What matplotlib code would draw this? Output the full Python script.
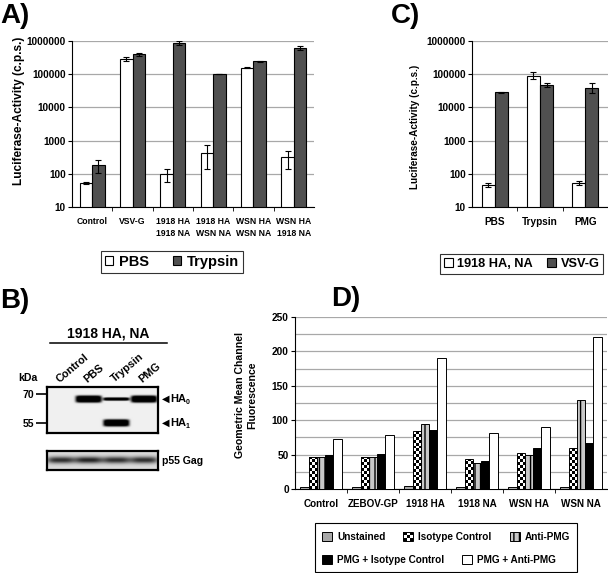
import numpy as np
import matplotlib
matplotlib.use('Agg')
import matplotlib.pyplot as plt
from matplotlib.patches import Rectangle, Patch
from matplotlib.legend_handler import HandlerBase
from matplotlib.ticker import NullLocator, FixedLocator

plt.rcParams['font.family'] = ['Liberation Sans', 'DejaVu Sans']
plt.rcParams['font.weight'] = 'bold'
plt.rcParams['axes.linewidth'] = 0.8

# ---------------- data ----------------
# Panel A
catsA = ['Control', 'VSV-G', '1918 HA\n1918 NA', '1918 HA\nWSN NA', 'WSN HA\nWSN NA', 'WSN HA\n1918 NA']
pbsA = [54, 280000, 98, 430, 157000, 327]
pbsA_lo = [51, 245000, 58, 140, 152000, 140]
pbsA_hi = [58, 320000, 136, 720, 162000, 497]
trypA = [184, 395000, 850000, 101000, 245000, 630000]
trypA_lo = [103, 360000, 740000, 98000, 235000, 540000]
trypA_hi = [263, 430000, 980000, 104000, 255000, 725000]
logTicks = [10, 100, 1000, 10000, 100000, 1000000]
logTickLabels = ['10', '100', '1000', '10000', '100000', '1000000']

# Panel C
catsC = ['PBS', 'Trypsin', 'PMG']
haC = [46, 90000, 54]
haC_lo = [39, 71000, 47]
haC_hi = [54, 115000, 60]
vsvC = [28500, 47000, 37600]
vsvC_lo = [27500, 40000, 26600]
vsvC_hi = [29500, 54000, 53000]

# Panel B (western blot band signals)
lanesB = ['Control', 'PBS', 'Trypsin', 'PMG']
ha0_signal = [0.0, 1.0, 0.45, 1.0]
ha1_signal = [0.0, 0.0, 1.0, 0.0]
gag_signal = [0.8, 0.85, 0.8, 0.8]
markers_kda = [55, 70]
ha0_kda = 67.4
ha1_kda = 55.0

# Panel D
catsD = ['Control', 'ZEBOV-GP', '1918 HA', '1918 NA', 'WSN HA', 'WSN NA']
seriesD = ['Unstained', 'Isotype Control', 'Anti-PMG', 'PMG + Isotype Control', 'PMG + Anti-PMG']
unstained = [3, 3, 4, 3, 3, 3]
isotype = [47, 47, 84, 44, 52, 59]
antipmg = [47, 46, 95, 38, 49, 129]
pmg_iso = [49, 51, 86, 41, 60, 67]
pmg_anti = [72, 79, 191, 82, 90, 221]

# ---------------- layout helpers ----------------
W, H = 608, 573
fig = plt.figure(figsize=(6.08, 5.73), dpi=100)


def rect(l, t, r, b):
    return [l / W, 1 - b / H, (r - l) / W, (b - t) / H]


def fxy(x, y):
    return (x / W, 1 - y / H)


DARK = '#505050'
GRID = '#a8a8a8'
ekw = dict(ecolor='black', elinewidth=0.8, capsize=2, capthick=0.8)


def style_log_axes(ax, n):
    ax.set_yscale('log')
    ax.set_ylim(10, 1e6)
    ax.yaxis.set_major_locator(FixedLocator(logTicks))
    ax.set_yticklabels(logTickLabels, fontsize=7.2, fontweight='bold')
    ax.yaxis.set_minor_locator(NullLocator())
    ax.set_xlim(-0.5, n - 0.5)
    ax.grid(axis='y', color=GRID, lw=0.9)
    ax.set_axisbelow(True)
    for s in ['top', 'right']:
        ax.spines[s].set_visible(False)
    ax.tick_params(axis='y', length=3, pad=1.5)
    ax.tick_params(axis='x', which='major', length=0, pad=7)
    ax.xaxis.set_minor_locator(FixedLocator(np.arange(0.5, n - 0.5, 1)))
    ax.tick_params(axis='x', which='minor', length=3)


# ---------------- Panel A ----------------
axA = fig.add_axes(rect(72, 41, 314, 207))
xA = np.arange(len(catsA))
bw = 0.31
pa = np.array(pbsA, float)
ta = np.array(trypA, float)
axA.bar(xA - bw / 2, pa - 10, bw, bottom=10, color='white', edgecolor='black', lw=0.8, zorder=3,
        yerr=[pa - np.array(pbsA_lo), np.array(pbsA_hi) - pa], error_kw=ekw)
axA.bar(xA + bw / 2, ta - 10, bw, bottom=10, color=DARK, edgecolor='black', lw=0.8, zorder=3,
        yerr=[ta - np.array(trypA_lo), np.array(trypA_hi) - ta], error_kw=ekw)
style_log_axes(axA, len(catsA))
axA.set_xticks(xA)
axA.set_xticklabels(catsA, fontsize=6.2, fontweight='bold', linespacing=1.45, va='top')
fig.text(*fxy(19, 111), 'Luciferase-Activity (c.p.s.)', rotation=90, ha='center', va='center',
         fontsize=8.6, fontweight='bold')

legA = fig.legend([Patch(facecolor='white', edgecolor='black', lw=0.8),
                   Patch(facecolor=DARK, edgecolor='black', lw=0.8)], ['PBS', 'Trypsin'],
                  loc='center', bbox_to_anchor=fxy(172, 262), ncol=2, frameon=True, fancybox=False,
                  edgecolor='black', fontsize=10.5, handlelength=0.6, handleheight=0.6,
                  handletextpad=0.4, columnspacing=1.6, borderpad=0.25, borderaxespad=0)
legA.get_frame().set_linewidth(0.8)

# ---------------- Panel C ----------------
axC = fig.add_axes(rect(472, 41, 608, 207))
xC = np.arange(len(catsC))
bwc = 0.29
hc = np.array(haC, float)
vc = np.array(vsvC, float)
axC.bar(xC - bwc / 2, hc - 10, bwc, bottom=10, color='white', edgecolor='black', lw=0.8, zorder=3,
        yerr=[hc - np.array(haC_lo), np.array(haC_hi) - hc], error_kw=ekw)
axC.bar(xC + bwc / 2, vc - 10, bwc, bottom=10, color=DARK, edgecolor='black', lw=0.8, zorder=3,
        yerr=[vc - np.array(vsvC_lo), np.array(vsvC_hi) - vc], error_kw=ekw)
style_log_axes(axC, len(catsC))
axC.set_xticks(xC)
axC.set_xticklabels(catsC, fontsize=7.2, fontweight='bold')
fig.text(*fxy(415, 127), 'Luciferase-Activity (c.p.s.)', rotation=90, ha='center', va='center',
         fontsize=7.2, fontweight='bold')
legC = fig.legend([Patch(facecolor='white', edgecolor='black', lw=0.8),
                   Patch(facecolor=DARK, edgecolor='black', lw=0.8)], ['1918 HA, NA', 'VSV-G'],
                  loc='center left', bbox_to_anchor=fxy(440, 264), ncol=2, frameon=True,
                  fancybox=False, edgecolor='black', fontsize=9.2, handlelength=0.7,
                  handleheight=0.7, handletextpad=0.35, columnspacing=1.1, borderpad=0.3,
                  borderaxespad=0)
legC.get_frame().set_linewidth(0.8)

# ---------------- Panel B (western blot) ----------------
axB = fig.add_axes(rect(47, 387, 158, 433))
ylimB = (49.8, 73.6)
xs = np.linspace(-0.5, len(lanesB) - 0.5, 444)
ys = np.linspace(ylimB[0], ylimB[1], 184)
XX, YY = np.meshgrid(xs, ys)
dark = np.zeros_like(XX)
for i in range(len(lanesB)):
    xprof = np.exp(-((XX - i) / 0.47) ** 8)
    for sig, kda in ((ha0_signal[i], ha0_kda), (ha1_signal[i], ha1_kda)):
        if sig > 0:
            half = 1.85 * sig
            dark += 1.4 * xprof * np.exp(-(np.abs(YY - kda) / half) ** 4)
img = 0.94 - 0.94 * np.clip(dark, 0, 1)
axB.imshow(img, extent=(xs[0], xs[-1], ys[0], ys[-1]), origin='lower', cmap='gray',
           vmin=0, vmax=1, aspect='auto', interpolation='bilinear')
axB.set_xlim(-0.5, len(lanesB) - 0.5)
axB.set_ylim(*ylimB)
axB.set_xticks([])
axB.set_yticks(markers_kda)
axB.set_yticklabels([str(m) for m in markers_kda], fontsize=7.5, fontweight='bold')
axB.tick_params(axis='y', length=8, width=1.2, pad=1)
for s in axB.spines.values():
    s.set_linewidth(1.6)
for kda, sub in ((ha0_kda, '0'), (ha1_kda, '1')):
    axB.annotate('\u25C0', xy=(1, kda), xycoords=axB.get_yaxis_transform(), xytext=(3, 0),
                 textcoords='offset points', ha='left', va='center', fontsize=7,
                 family='DejaVu Sans')
    axB.annotate('HA', xy=(1, kda), xycoords=axB.get_yaxis_transform(), xytext=(9, 0),
                 textcoords='offset points', ha='left', va='center', fontsize=8, fontweight='bold')
    axB.annotate(sub, xy=(1, kda), xycoords=axB.get_yaxis_transform(), xytext=(20, -2.5),
                 textcoords='offset points', ha='left', va='center', fontsize=5, fontweight='bold')
for i, lab in enumerate(lanesB):
    axB.annotate(lab, xy=(i, 1), xycoords=axB.get_xaxis_transform(), xytext=(-1, 3),
                 textcoords='offset points', rotation=40, rotation_mode='anchor', ha='left',
                 va='baseline', fontsize=7.8, fontweight='bold')

axG = fig.add_axes(rect(47, 451, 158, 470))
xs2 = np.linspace(-0.5, len(lanesB) - 0.5, 444)
ys2 = np.linspace(0, 1, 80)
XX2, YY2 = np.meshgrid(xs2, ys2)
dg = np.zeros_like(XX2)
for i, sig in enumerate(gag_signal):
    xprof = np.exp(-((XX2 - i) / 0.5) ** 4)
    dg += sig * xprof * np.exp(-((YY2 - 0.5) / 0.17) ** 2)
img2 = 0.86 - 0.86 * np.clip(dg, 0, 1)
axG.imshow(img2, extent=(xs2[0], xs2[-1], 0, 1), origin='lower', cmap='gray', vmin=0, vmax=1,
           aspect='auto', interpolation='bilinear')
axG.set_xlim(-0.5, len(lanesB) - 0.5)
axG.set_ylim(0, 1)
axG.set_xticks([])
axG.set_yticks([])
for s in axG.spines.values():
    s.set_linewidth(1.6)
fig.text(*fxy(162, 461), 'p55 Gag', ha='left', va='center', fontsize=7.6, fontweight='bold')
fig.text(*fxy(28, 378), 'kDa', ha='center', va='center', fontsize=7.6, fontweight='bold')
fig.text(*fxy(108, 333), '1918 HA, NA', ha='center', va='center', fontsize=10, fontweight='bold')
fig.add_artist(plt.Line2D([50 / W, 167 / W], [1 - 343 / H, 1 - 343 / H], color='black', lw=1.1))

# ---------------- Panel D ----------------
axD = fig.add_axes(rect(295, 317, 607, 489))
xD = np.arange(len(catsD))
bd = 0.16
offs = (np.arange(5) - 2) * bd
axD.bar(xD + offs[0], unstained, bd, color='#a8a8a8', edgecolor='black', lw=0.7, zorder=3)
iso_bars = axD.bar(xD + offs[1], isotype, bd, color='none', edgecolor='black', lw=0.7, zorder=3)
axD.bar(xD + offs[2], antipmg, bd, color='#c8c8c8', edgecolor='black', lw=0.7, hatch='|||', zorder=3)
axD.bar(xD + offs[3], pmg_iso, bd, color='black', edgecolor='black', lw=0.7, zorder=3)
axD.bar(xD + offs[4], pmg_anti, bd, color='white', edgecolor='black', lw=0.7, zorder=3)
for r in iso_bars:
    x0, w, h = r.get_x(), r.get_width(), r.get_height()
    nrows = max(1, int(round(h / 4.3)))
    arr = (np.add.outer(np.arange(nrows), np.arange(3)) % 2).astype(float)
    im = axD.imshow(arr, extent=(x0, x0 + w, 0, h), origin='lower', cmap='gray', vmin=0, vmax=1,
                    interpolation='nearest', aspect='auto', zorder=2.5)
    im.set_clip_path(r)
axD.set_xlim(-0.5, len(catsD) - 0.5)
axD.set_ylim(0, 250)
axD.set_yticks(np.arange(0, 251, 50))
axD.set_yticklabels([str(v) for v in range(0, 251, 50)], fontsize=7.3, fontweight='bold')
axD.yaxis.set_minor_locator(FixedLocator(np.arange(25, 250, 50)))
axD.tick_params(axis='y', which='major', length=3, pad=1.5)
axD.tick_params(axis='y', which='minor', length=0)
axD.grid(axis='y', which='both', color=GRID, lw=0.9)
axD.set_axisbelow(True)
for s in ['top', 'right']:
    axD.spines[s].set_visible(False)
axD.set_xticks(xD)
axD.set_xticklabels(catsD, fontsize=7.1, fontweight='bold')
axD.tick_params(axis='x', which='major', length=0, pad=7)
axD.xaxis.set_minor_locator(FixedLocator(np.arange(0.5, len(catsD) - 0.5, 1)))
axD.tick_params(axis='x', which='minor', length=3)
fig.text(*fxy(246, 395), 'Geometric Mean Channel\nFluorescence', rotation=90, ha='center',
         va='center', fontsize=7.6, fontweight='bold', linespacing=1.25)


class CheckerHandler(HandlerBase):
    def create_artists(self, legend, orig_handle, xdescent, ydescent, width, height, fontsize, trans):
        arts = []
        n = 3
        cw, ch = width / n, height / n
        for i in range(n):
            for j in range(n):
                fc = 'black' if (i + j) % 2 == 0 else 'white'
                arts.append(Rectangle((-xdescent + i * cw, -ydescent + j * ch), cw, ch,
                                      facecolor=fc, edgecolor='none', transform=trans))
        arts.append(Rectangle((-xdescent, -ydescent), width, height, fill=False,
                              edgecolor='black', lw=0.7, transform=trans))
        return arts


checker = Patch(facecolor='white', edgecolor='black')
hU = Patch(facecolor='#a8a8a8', edgecolor='black', lw=0.7)
hA = Patch(facecolor='#c8c8c8', edgecolor='black', lw=0.7, hatch='|||')
hPI = Patch(facecolor='black', edgecolor='black', lw=0.7)
hPA = Patch(facecolor='white', edgecolor='black', lw=0.7)
fig.add_artist(Rectangle((315 / W, 1 - 572 / H), (577 - 315) / W, (572 - 523) / H,
                         transform=fig.transFigure, fill=False, edgecolor='black', lw=0.8))
common = dict(frameon=False, fontsize=7.2, handlelength=1.0, handleheight=0.9,
              handletextpad=0.5, borderpad=0, borderaxespad=0,
              handler_map={checker: CheckerHandler()})
lg1 = fig.legend([hU, checker, hA], seriesD[:3], loc='center left', bbox_to_anchor=fxy(322, 537),
                 ncol=3, columnspacing=1.8, **common)
lg2 = fig.legend([hPI, hPA], seriesD[3:], loc='center left', bbox_to_anchor=fxy(322, 560),
                 ncol=2, columnspacing=1.8, **common)

# ---------------- panel labels ----------------
for lab, (px, py) in {'A)': (0, 3), 'B)': (0, 288), 'C)': (391, 3), 'D)': (331, 286)}.items():
    fig.text(*fxy(px, py), lab, ha='left', va='top', fontsize=20, fontweight='bold')

fig.savefig('out.png', dpi=100)
